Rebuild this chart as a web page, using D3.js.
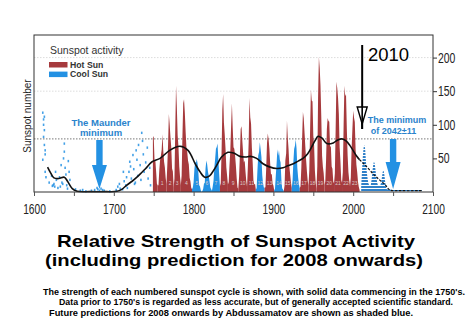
<!DOCTYPE html>
<html><head><meta charset="utf-8">
<script src="https://cdn.jsdelivr.net/npm/d3@7"></script>
<style>
html,body{margin:0;padding:0;background:#fff;}
svg{display:block;font-family:"Liberation Sans",Arial,sans-serif;}
</style></head>
<body><svg id="c" width="476" height="328"></svg>
<script>
// ---------- DATA ----------
const firstYear = 1749;
const sunspotValues = [
 80.9,83.4,47.7,47.8,30.7,12.2,9.6,            // 1749-1755
 10.2,32.4,47.6,54.0,62.9,85.9,61.2,45.1,36.4,20.9,11.4, // 1756-1766
 37.8,69.8,116,100.8,81.6,66.5,34.8,30.6,7.0,  // 1767-1775
 19.8,92.5,158,125.9,84.8,68.1,38.5,22.8,10.2, // 1776-1784
 24.1,82.9,132.0,138,118.1,89.9,66.6,60.0,46.9,41.0,21.3,16.0,6.4,4.1, // 1785-1798
 6.8,14.5,34.0,45.0,43.1,49,42.2,28.1,10.1,8.1,2.5,0.0, // 1799-1810
 1.4,5.0,12.2,13.9,35.4,47,41.1,30.1,23.9,15.6,6.6,4.0,1.8, // 1811-1823
 8.5,16.6,36.3,49.6,64.2,67.0,72,47.8,27.5,8.5, // 1824-1833
 13.2,56.9,121.5,146,103.2,85.7,64.6,36.7,24.2,10.7, // 1834-1843
 15.0,40.1,61.5,98.5,132,96.3,66.6,64.5,54.1,39.0,20.6,6.7,4.3, // 1844-1856
 22.7,54.8,93.8,98,77.2,59.1,44.0,47.0,30.5,16.3,7.3, // 1857-1867
 37.6,74.0,140,111.2,101.6,66.2,44.7,17.0,11.3,12.4,3.4, // 1868-1878
 6.0,32.3,54.3,59.7,74,63.5,52.2,25.4,13.1,6.8,6.3, // 1879-1889
 7.1,35.6,73.0,87,78.0,64.0,41.8,26.2,26.7,12.1,9.5,2.7, // 1890-1901
 5.0,24.4,42.0,63.5,53.8,62.0,48.5,43.9,18.6,5.7,3.6,1.4, // 1902-1913
 9.6,47.4,57.1,106,80.6,63.6,37.6,26.1,14.2,5.8, // 1914-1923
 16.7,44.3,63.9,69.0,78,64.9,35.7,21.2,11.1,5.7, // 1924-1933
 8.7,36.1,79.7,119,109.6,88.8,67.8,47.5,30.6,16.3,9.6, // 1934-1944
 33.2,92.6,152,136.3,134.7,83.9,69.4,31.5,13.9,4.4, // 1945-1954
 38.0,141.7,201,184.8,159.0,112.3,53.9,37.6,27.9,10.2, // 1955-1964
 15.1,47.0,93.8,110,105.5,104.5,66.6,68.9,38.0,34.5,15.5,12.6, // 1965-1976
 27.5,92.5,164,154.6,140.4,115.9,66.6,45.9,17.9,13.4, // 1977-1986
 29.4,100.2,158,142.6,145.7,94.3,54.6,29.9,17.5,8.6, // 1987-1996
 21.5,64.3,93.3,121,111.0,104.0,63.7,40.4,29.8,15.2,7.5,2.9 // 1997-2008
];
const cycleMinYears = [1749,1755,1766,1775,1784,1798,1810,1823,1833,1843,1856,1867,1878,1889,1901,1913,1923,1933,1944,1954,1964,1976,1986,1996,2008];
const cycleTypes = ["hot","hot","hot","hot","hot","cool","cool","cool","hot","hot","hot","hot","cool","hot","cool","hot","cool","hot","hot","hot","hot","hot","hot","hot"];
const cycleNumbers = ["","1","2","3","4","5","6","7","8","9","10","11","12","13","14","15","16","17","18","19","20","21","22","23"];

// early telescopic observations (pre-1750), scattered
const earlyYears  = [1611,1612,1612,1613,1613,1613,1614,1614,1614,1615,1612,1611,1619,1622,1625,1627,1626,1628,1630,1624,1623,1632,1634,1635,1637,1638,1638,1639,1640,1641,1643,1644,1645,1642,1633,1636,1652,1658,1661,1665,1672,1676,1680,1682,1684,1688,1695,1679,1686,1703,1705,1707,1708,1711,1713,1715,1716,1717,1712,1719,1720,1721,1722,1724,1725,1726,1728,1729,1730,1731,1733,1734,1736,1737,1738,1740,1742,1743,1745,1746,1735,1727];
const earlyValues = [118,108,100,112,92,70,62,56,30,22,82,48,14,24,12,30,8,18,6,10,9,22,40,14,50,72,60,36,26,10,46,30,18,5,8,12,4,2,3,1,2,3,4,2,5,2,1,6,3,3,8,12,5,4,16,10,22,6,30,30,45,38,20,55,34,12,62,48,24,70,40,18,76,56,30,44,66,20,36,10,88,14];

// smoothed envelope (black line)
const smoothYears  = [1617,1621,1625,1631,1638,1642,1648,1654,1670,1690,1704,1710,1716,1723,1729,1735,1740,1748,1758,1770,1783,1793,1802,1808,1814,1820,1825,1830,1835,1843,1850,1858,1865,1871,1879,1887,1896,1904,1912,1918,1925,1931,1937,1943,1948,1952,1956,1961,1967,1975,1980,1986,1991,1996,2004,2008];
const smoothValues = [37,28,21,20,22,16,5,1,0.5,0.5,1,4,10,16,22,29,35,45,50,62,68,62,42,30,22,24,32,42,52,59,58,53,52,53,50,42,37,35,36,39,42,46,50,57,67,76,83,80,72,73,77,79,76,69,54,48];

// prediction (Abdussamatov)
const predYears  = [2010,2011,2012,2013,2014,2015,2016,2017,2018,2019,2020,2021,2022,2023,2024,2025,2026,2027,2028,2029,2030,2031,2032,2033,2034,2035,2036,2037,2038,2039,2040,2041,2042,2050,2060,2070,2080,2086];
const predValues = [8,30,52,66,70,64,45,30,20,13,10,9,10,18,30,40,45,42,32,22,14,10,9,9,10,14,22,30,32,26,16,8,4,3,3,3,3,3];
const dashYears  = [2008,2015,2025,2033,2040,2046,2060,2086];
const dashValues = [48,40,27,18,11,3,2,2];

const xTicks = [1600,1650,1700,1750,1800,1850,1900,1950,2000,2050,2100];
const xLabels = [1600,1700,1800,1900,2000,2100];
const yTicks = [50,100,150,200];
const refLevel = 79;

const hotColor = "#a63a3d", coolColor = "#2391e3", predColor = "#2f80c8", annColor = "#2a83cc";

// ---------- SCALES ----------
const svg = d3.select("#c");
const pL = 34, pR = 433, pT = 35, pB = 192;
const x = d3.scaleLinear().domain([1600,2100]).range([pL,pR]);
const y = d3.scaleLinear().domain([0,233.6]).range([pB,pT]);

svg.append("rect").attr("width",476).attr("height",328).attr("fill","#fff");

// pattern for predictions
const defs = svg.append("defs");
const pat = defs.append("pattern").attr("id","hatch").attr("patternUnits","userSpaceOnUse")
  .attr("width",4).attr("height",3);
pat.append("rect").attr("width",4).attr("height",3).attr("fill",predColor);
pat.append("rect").attr("y",2).attr("width",4).attr("height",1).attr("fill","#fff");

// gridlines
svg.append("g").selectAll("line").data([150,200]).join("line")
  .attr("x1",pL).attr("x2",pR).attr("y1",d=>y(d)).attr("y2",d=>y(d))
  .attr("stroke","#d4d4d4").attr("stroke-width",0.8).attr("stroke-dasharray","1.5,1.5");
svg.append("line").attr("x1",pL).attr("x2",pR).attr("y1",y(refLevel)).attr("y2",y(refLevel))
  .attr("stroke","#555").attr("stroke-width",0.8).attr("stroke-dasharray","1.5,1.5");

// early specks
svg.append("g").selectAll("rect").data(earlyYears).join("rect")
  .attr("x",(d)=>x(d)-0.8).attr("y",(d,i)=>y(earlyValues[i])-1.2)
  .attr("width",1.6).attr("height",2.4).attr("fill",coolColor).attr("opacity",0.85);

// cycle areas
const area = d3.area().x(d=>x(d[0])).y0(y(0)).y1(d=>y(d[1]));
const cyc = svg.append("g");
for (let i=0;i<cycleTypes.length;i++){
  const pts=[];
  for (let yr=cycleMinYears[i]; yr<=cycleMinYears[i+1]; yr++) pts.push([yr, sunspotValues[yr-firstYear]]);
  cyc.append("path").attr("d",area(pts))
    .attr("fill", cycleTypes[i]==="hot"?hotColor:coolColor);
  if (cycleNumbers[i]) {
    cyc.append("text").attr("x",x((cycleMinYears[i]+cycleMinYears[i+1])/2)).attr("y",185)
      .attr("text-anchor","middle").attr("font-size",5).attr("fill","#d8c8c8").text(cycleNumbers[i]);
  }
}

// predictions
const predPts = predYears.map((d,i)=>[d,predValues[i]]);
svg.append("path").attr("d",area(predPts)).attr("fill","url(#hatch)");

// smooth line
const line = d3.line().x(d=>x(d[0])).y(d=>y(d[1])).curve(d3.curveCatmullRom);
svg.append("path").attr("d",line(smoothYears.map((d,i)=>[d,smoothValues[i]])))
  .attr("fill","none").attr("stroke","#111").attr("stroke-width",1.6);
svg.append("path").attr("d",line(dashYears.map((d,i)=>[d,dashValues[i]])))
  .attr("fill","none").attr("stroke","#111").attr("stroke-width",1.2).attr("stroke-dasharray","2.5,1.5");

// frame
svg.append("rect").attr("x",pL).attr("y",pT).attr("width",pR-pL).attr("height",pB-pT)
  .attr("fill","none").attr("stroke","#333").attr("stroke-width",1);

// axes
const xAxis = d3.axisBottom(x).tickValues(xTicks).tickSize(4)
  .tickFormat(d=> xLabels.includes(d)? String(d):"");
const gx = svg.append("g").attr("transform",`translate(0,${pB})`).call(xAxis);
gx.select(".domain").remove();
gx.selectAll(".tick line").attr("stroke","#555");
gx.selectAll("text").attr("font-size",14.5).attr("fill","#222").attr("dy",0).attr("y",22)
  .attr("font-family","'Liberation Sans',Arial,sans-serif")
  .each(function(d){ if (xLabels.includes(d)) d3.select(this).attr("textLength",22.7).attr("lengthAdjust","spacingAndGlyphs"); });

const yAxis = d3.axisRight(y).tickValues(yTicks).tickSize(4);
const gy = svg.append("g").attr("transform",`translate(${pR},0)`).call(yAxis);
gy.select(".domain").remove();
gy.selectAll(".tick line").attr("stroke","#333");
gy.selectAll("text").attr("font-size",14).attr("fill","#222").attr("x",5)
  .attr("font-family","'Liberation Sans',Arial,sans-serif")
  .each(function(d){ const n=String(d).length; d3.select(this).attr("textLength",n*5.8).attr("lengthAdjust","spacingAndGlyphs"); });

// y label
svg.append("text").attr("transform","translate(31,116) rotate(-90)").attr("text-anchor","middle")
  .attr("font-size",10).attr("fill","#222").text("Sunspot number");

// legend
svg.append("text").attr("x",50).attr("y",54).attr("font-size",10.5).attr("font-weight",500).attr("fill","#333").text("Sunspot activity");
const legItems = [["Hot Sun",hotColor],["Cool Sun",coolColor]];
legItems.forEach((d,i)=>{
  svg.append("rect").attr("x",49).attr("y",62+i*9.6).attr("width",18.5).attr("height",5.5).attr("fill",d[1]);
  svg.append("text").attr("x",70).attr("y",67.5+i*9.6).attr("font-size",8.7).attr("fill","#333").attr("font-weight","bold").text(d[0]);
});

// Maunder annotation
svg.append("text").attr("x",101).attr("y",126).attr("text-anchor","middle").attr("font-size",9.5)
  .attr("font-weight","bold").attr("fill",annColor).text("The Maunder");
svg.append("text").attr("x",101).attr("y",136).attr("text-anchor","middle").attr("font-size",9.5)
  .attr("font-weight","bold").attr("fill",annColor).text("minimum");
function blueArrow(cx, y0, y1, headTop){
  svg.append("path").attr("d",`M${cx-3.2},${y0}L${cx+3.2},${y0}L${cx+3.2},${headTop}L${cx+7.5},${headTop}L${cx},${y1}L${cx-7.5},${headTop}L${cx-3.2},${headTop}Z`)
    .attr("fill",coolColor);
}
blueArrow(x(1682), 140, 189, 165);
blueArrow(x(2050), 139, 189, 162);

// 2042 annotation
svg.append("text").attr("x",397).attr("y",123).attr("text-anchor","middle").attr("font-size",9)
  .attr("font-weight","bold").attr("fill",annColor).text("The minimum");
svg.append("text").attr("x",393.5).attr("y",134).attr("text-anchor","middle").attr("font-size",9)
  .attr("font-weight","bold").attr("fill",annColor).text("of 2042±11");

// 2010 arrow
const ax = x(2010)+1;
svg.append("line").attr("x1",ax).attr("x2",ax).attr("y1",45).attr("y2",129)
  .attr("stroke","#000").attr("stroke-width",2);
svg.append("path").attr("d",`M${ax-5},107L${ax+5},107L${ax},124Z`)
  .attr("fill","#fff").attr("stroke","#000").attr("stroke-width",1.4);
svg.append("line").attr("x1",ax).attr("x2",ax).attr("y1",107).attr("y2",129)
  .attr("stroke","#000").attr("stroke-width",1.6);
svg.append("text").attr("x",368).attr("y",61).attr("font-size",18.5).attr("fill","#000").text("2010");

// titles
svg.append("text").attr("x",236).attr("y",246.5).attr("text-anchor","middle").attr("font-size",17)
  .attr("font-weight","bold").attr("fill","#000").attr("textLength",358).attr("lengthAdjust","spacingAndGlyphs")
  .text("Relative Strength of Sunspot Activity");
svg.append("text").attr("x",234).attr("y",266).attr("text-anchor","middle").attr("font-size",17)
  .attr("font-weight","bold").attr("fill","#000").attr("textLength",378).attr("lengthAdjust","spacingAndGlyphs")
  .text("(including prediction for 2008 onwards)");
const notes = [
  ["The strength of each numbered sunspot cycle is shown, with solid data commencing in the 1750's.",254,294.5,422],
  ["Data prior to 1750's is regarded as less accurate, but of generally accepted scientific standard.",256,305,394],
  ["Future predictions for 2008 onwards by Abdussamatov are shown as shaded blue.",231,315.5,364]
];
notes.forEach(n=>{
  svg.append("text").attr("x",n[1]).attr("y",n[2]).attr("text-anchor","middle").attr("font-size",8.6)
    .attr("font-weight","bold").attr("fill","#000").attr("textLength",n[3]).attr("lengthAdjust","spacingAndGlyphs").text(n[0]);
});
</script></body></html>
